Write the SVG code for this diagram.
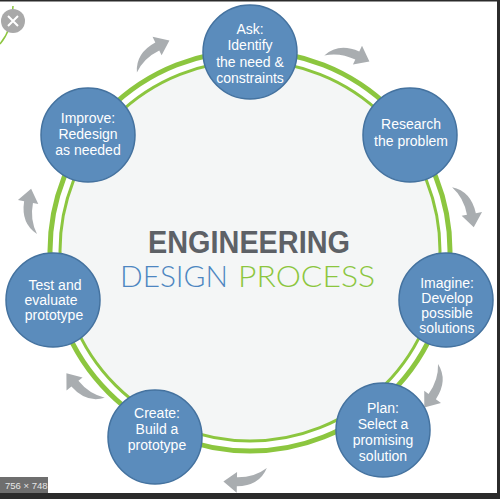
<svg xmlns="http://www.w3.org/2000/svg" width="500" height="499" viewBox="0 0 500 499">
<style>
.node{fill:#5b8cbc;stroke:#44729f;stroke-width:1.5}
.nt{font-family:"Liberation Sans",Arial,sans-serif;font-size:14px;fill:#ffffff;text-anchor:middle}
.arr{fill:#a9adb0}
</style>
<defs>
<path id="arrow" d="M -24,16 Q -16,-4 9,-5 L 9,-12 L 24,0 L 9,11 L 9,5 Q -10,5 -24,16 Z"/>
</defs>
<rect x="0" y="0" width="500" height="499" fill="#ffffff"/>
<g id="ring">
<circle cx="250" cy="251" r="189" fill="#f4f6f6"/>
<circle cx="250" cy="251" r="200" fill="none" stroke="#8cc63f" stroke-width="5"/>
<circle cx="250" cy="251" r="190" fill="none" stroke="#8cc63f" stroke-width="3"/>
</g>
<g id="title">
<text x="148" y="253" font-family="'Liberation Sans',Arial,sans-serif" font-size="31" font-weight="bold" fill="#5d6166" textLength="202" lengthAdjust="spacingAndGlyphs">ENGINEERING</text>
<text x="120" y="287" font-family="Lato,'Liberation Sans',sans-serif" font-weight="300" font-size="29" fill="#4d86c1" textLength="108" lengthAdjust="spacingAndGlyphs">DESIGN</text>
<text x="238" y="287" font-family="Lato,'Liberation Sans',sans-serif" font-weight="300" font-size="29" fill="#8cc63e" textLength="137" lengthAdjust="spacingAndGlyphs">PROCESS</text>
</g>
<g id="connectors" class="arr">
<use href="#arrow" transform="translate(150,50) rotate(-26) scale(0.9)"/>
<use href="#arrow" transform="translate(350,52) rotate(26) scale(0.9)"/>
<use href="#arrow" transform="translate(470,206) rotate(80) scale(0.9)"/>
<use href="#arrow" transform="translate(437,390) rotate(126) scale(0.9)"/>
<use href="#arrow" transform="translate(245,482) rotate(181) scale(0.9)"/>
<use href="#arrow" transform="translate(80,390) rotate(231) scale(0.9)"/>
<use href="#arrow" transform="translate(27,210) rotate(281) scale(0.9)"/>
</g>
<g id="ask">
<circle class="node" cx="250" cy="52" r="47"/>
<text class="nt" x="250" y="34">Ask:</text>
<text class="nt" x="250" y="50">Identify</text>
<text class="nt" x="250" y="67">the need &amp;</text>
<text class="nt" x="250" y="83">constraints</text>
</g>
<g id="research">
<circle class="node" cx="410" cy="135" r="47"/>
<text class="nt" x="411" y="129">Research</text>
<text class="nt" x="411" y="146">the  problem</text>
</g>
<g id="imagine">
<circle class="node" cx="446" cy="300" r="47"/>
<text class="nt" x="447" y="288">Imagine:</text>
<text class="nt" x="447" y="303">Develop</text>
<text class="nt" x="447" y="318">possible</text>
<text class="nt" x="447" y="333">solutions</text>
</g>
<g id="plan">
<circle class="node" cx="383" cy="430" r="47"/>
<text class="nt" x="383" y="413">Plan:</text>
<text class="nt" x="383" y="429">Select a</text>
<text class="nt" x="383" y="445">promising</text>
<text class="nt" x="383" y="461">solution</text>
</g>
<g id="create">
<circle class="node" cx="155" cy="437" r="47"/>
<text class="nt" x="157" y="418">Create:</text>
<text class="nt" x="157" y="434">Build a</text>
<text class="nt" x="157" y="450">prototype</text>
</g>
<g id="test">
<circle class="node" cx="53" cy="300" r="47"/>
<text class="nt" x="55" y="290">Test  and</text>
<text class="nt" x="51" y="305">evaluate</text>
<text class="nt" x="54" y="320">prototype</text>
</g>
<g id="improve">
<circle class="node" cx="88" cy="135" r="47"/>
<text class="nt" x="88" y="123">Improve:</text>
<text class="nt" x="88" y="139">Redesign</text>
<text class="nt" x="88" y="155">as needed</text>
</g>
<path d="M 13,6 Q 12,30 0,44" fill="none" stroke="#8cc63f" stroke-width="1.5"/>
<circle cx="13" cy="21" r="12" fill="#a9a9a9"/>
<path d="M 8,16 L 18,26 M 18,16 L 8,26" stroke="#ffffff" stroke-width="2"/>
<rect x="0" y="477" width="48" height="16" fill="#6e6e6e"/>
<text x="5" y="489" font-family="'Liberation Sans',Arial,sans-serif" font-size="9.5" fill="#e6e6e6">756 × 748</text>
<rect x="0" y="0" width="500" height="1.5" fill="#2b2b2b"/>
<rect x="497" y="0" width="3" height="499" fill="#2b2b2b"/>
<rect x="0" y="493" width="500" height="6" fill="#2b2b2b"/>
</svg>
